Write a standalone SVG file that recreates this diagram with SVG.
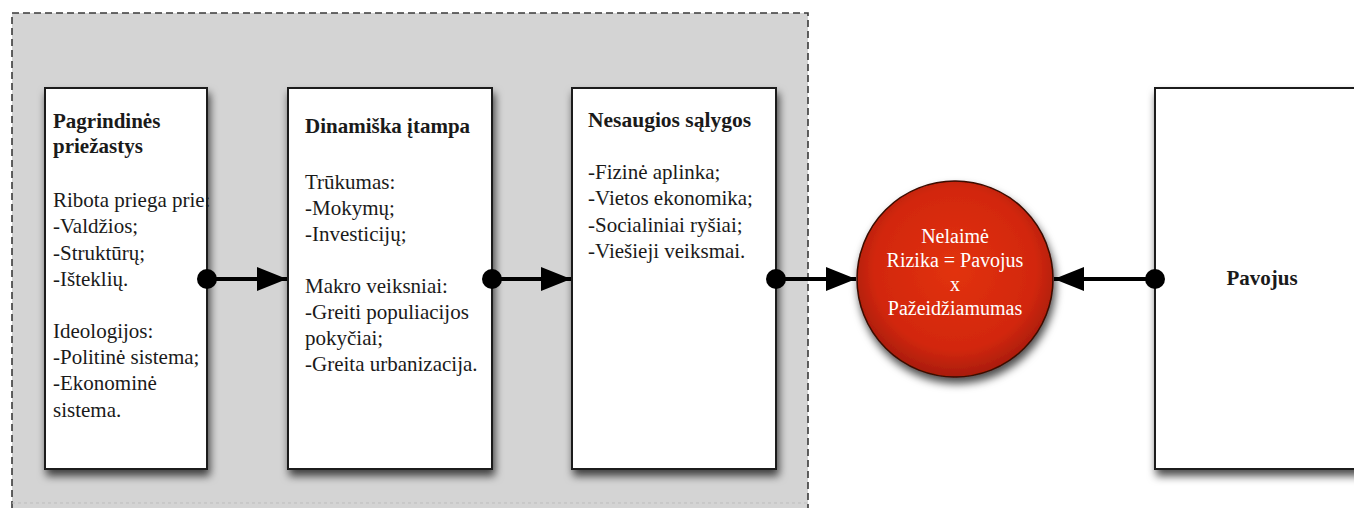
<svg xmlns="http://www.w3.org/2000/svg" width="1354" height="508" viewBox="0 0 1354 508">
<style>
.box{fill:#fff;stroke:#1e1e1e;stroke-width:2}
.t{font-family:"Liberation Serif","Times New Roman",serif;font-size:21px;fill:#1a1a1a}
.b{font-weight:bold}
.w{fill:#fff;font-size:20px}
.conn{stroke:#000;stroke-width:4;fill:none}
.dash{stroke:#3a3a3a;stroke-width:1.6;stroke-dasharray:7,4;fill:none}
</style>
<defs>
<filter id="sh" x="-20%" y="-20%" width="140%" height="140%">
<feDropShadow dx="2" dy="6" stdDeviation="4.5" flood-color="#000" flood-opacity="0.7"/>
</filter>
<radialGradient id="rg" cx="50%" cy="45%" r="55%">
<stop offset="0" stop-color="#e2320f"/>
<stop offset="0.75" stop-color="#d2270a"/>
<stop offset="1" stop-color="#a81c07"/>
</radialGradient>
<marker id="ah" viewBox="0 0 30 24" refX="30" refY="12" markerWidth="30" markerHeight="24" markerUnits="userSpaceOnUse" orient="auto">
<path d="M0,0 L30,12 L0,24 Z" fill="#000"/>
</marker>
</defs>
<g id="region">
<rect x="12" y="13" width="796" height="495" fill="#d4d4d4"/>
<path class="dash" d="M12,508 L12,13 L808,13 L808,508"/>
<line x1="12" y1="503" x2="808" y2="503" stroke="#bdbdbd" stroke-width="1" stroke-dasharray="3,3"/>
</g>
<g id="n1">
<rect class="box" x="45" y="88" width="162" height="381" filter="url(#sh)"/>
<text class="t b" x="53" y="128">Pagrindinės</text>
<text class="t b" x="53" y="153">priežastys</text>
<text class="t" x="53" y="207">Ribota priega prie:</text>
<text class="t" x="53" y="233">-Valdžios;</text>
<text class="t" x="53" y="260">-Struktūrų;</text>
<text class="t" x="53" y="286">-Išteklių.</text>
<text class="t" x="53" y="338">Ideologijos:</text>
<text class="t" x="53" y="364">-Politinė sistema;</text>
<text class="t" x="53" y="390">-Ekonominė</text>
<text class="t" x="53" y="417">sistema.</text>
</g>
<g id="n2">
<rect class="box" x="288" y="88" width="204" height="381" filter="url(#sh)"/>
<text class="t b" x="305" y="133">Dinamiška įtampa</text>
<text class="t" x="305" y="189">Trūkumas:</text>
<text class="t" x="305" y="215">-Mokymų;</text>
<text class="t" x="305" y="241">-Investicijų;</text>
<text class="t" x="305" y="293">Makro veiksniai:</text>
<text class="t" x="305" y="319">-Greiti populiacijos</text>
<text class="t" x="305" y="345">pokyčiai;</text>
<text class="t" x="305" y="371">-Greita urbanizacija.</text>
</g>
<g id="n3">
<rect class="box" x="572" y="88" width="204" height="381" filter="url(#sh)"/>
<text class="t b" x="588" y="127" style="font-size:21.5px">Nesaugios sąlygos</text>
<text class="t" x="588" y="179">-Fizinė aplinka;</text>
<text class="t" x="588" y="205">-Vietos ekonomika;</text>
<text class="t" x="588" y="232">-Socialiniai ryšiai;</text>
<text class="t" x="588" y="258">-Viešieji veiksmai.</text>
</g>
<g id="n4">
<rect class="box" x="1155" y="88" width="210" height="381" filter="url(#sh)"/>
<text class="t b" x="1262" y="285" text-anchor="middle">Pavojus</text>
</g>
<g id="n5">
<circle cx="955" cy="279" r="98" fill="url(#rg)" stroke="#3a0a02" stroke-width="1.5" filter="url(#sh)"/>
<text class="t w" x="955" y="243" text-anchor="middle">Nelaimė</text>
<text class="t w" x="955" y="267" text-anchor="middle">Rizika = Pavojus</text>
<text class="t w" x="955" y="291" text-anchor="middle">x</text>
<text class="t w" x="955" y="315" text-anchor="middle">Pažeidžiamumas</text>
</g>
<g id="connectors">
<line class="conn" x1="207" y1="279" x2="287" y2="279" marker-end="url(#ah)"/>
<circle cx="207" cy="279" r="10" fill="#000"/>
<line class="conn" x1="492" y1="279" x2="571" y2="279" marker-end="url(#ah)"/>
<circle cx="492" cy="279" r="10" fill="#000"/>
<line class="conn" x1="776" y1="279" x2="856" y2="279" marker-end="url(#ah)"/>
<circle cx="776" cy="279" r="10" fill="#000"/>
<line class="conn" x1="1155" y1="279" x2="1054" y2="279" marker-end="url(#ah)"/>
<circle cx="1155" cy="279" r="10" fill="#000"/>
</g>
</svg>
